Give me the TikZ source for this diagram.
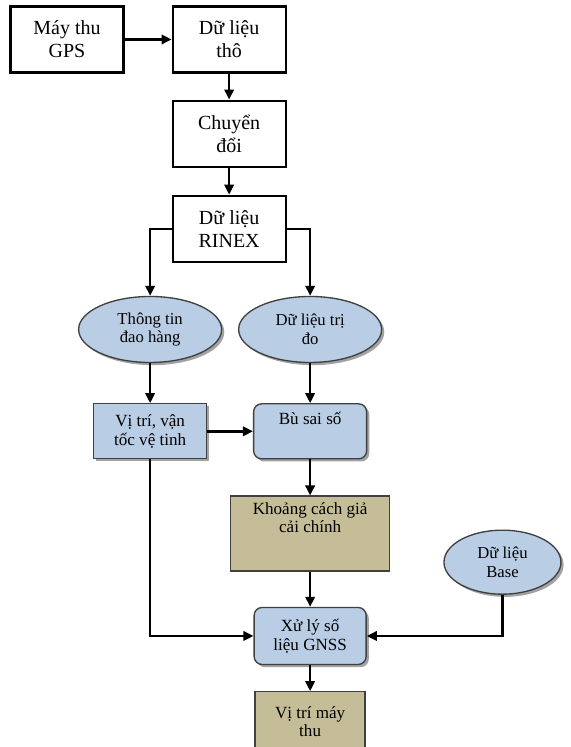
\documentclass[tikz,border=0pt]{standalone}
\usepackage{fontspec}
\setmainfont{Liberation Serif}
\usetikzlibrary{arrows.meta, positioning, shapes.geometric, shadows}
\definecolor{paleblue}{HTML}{B9CDE5}
\definecolor{khaki}{HTML}{C4BD97}

\begin{document}
\begin{tikzpicture}[
    node distance=20pt,
    plain/.style={
        rectangle, draw, line width=1.6pt,
        minimum width=84.75pt, minimum height=49.5pt,
        align=center, font=\fontsize{15}{17.5}\selectfont
    },
    bluebox/.style={
        rectangle, draw=black!75, line width=1pt, fill=paleblue,
        minimum width=84.75pt, minimum height=41.25pt,
        align=center, font=\fontsize{12.8}{14.5}\selectfont,
        drop shadow={shadow xshift=2pt, shadow yshift=-2pt, fill=black!60, opacity=.6}
    },
    oval/.style={
        ellipse, draw=black!75, line width=1pt, fill=paleblue, inner sep=0pt,
        minimum width=107.25pt, minimum height=49.5pt,
        align=center, font=\fontsize{12.5}{14}\selectfont,
        drop shadow={shadow xshift=2pt, shadow yshift=-2pt, fill=black!60, opacity=.6}
    },
    tanbox/.style={
        rectangle, draw=black!75, line width=1pt, fill=khaki,
        align=center, font=\fontsize{12.8}{14}\selectfont
    },
    arrow/.style={-{Triangle[length=7.5pt,width=7pt]}, line width=1.8pt},
]

\useasboundingbox (0,0) rectangle (428.25pt,-560.25pt);

\node[plain] (gps) at (50.25pt,-29.6pt) {Máy thu\\GPS};
\node[plain, right=35.25pt of gps] (tho) {Dữ liệu\\thô};
\node[plain, below=19.5pt of tho] (chuyen) {Chuyển\\đổi};
\node[plain, below=20.25pt of chuyen] (rinex) {Dữ liệu\\RINEX};

\node[oval, below=24.75pt of rinex, xshift=-59.25pt] (daohang) {Thông tin\\đao hàng};
\node[oval, below=24.75pt of rinex, xshift=60.75pt] (trido) {Dữ liệu trị\\đo};

\node[bluebox, below=30pt of daohang] (vitri) {Vị trí, vận\\tốc vệ tinh};
\node[bluebox, rounded corners=6pt, below=30pt of trido] (busai) {Bù sai số\\ \strut};

\node[tanbox, minimum width=119.25pt, minimum height=56.25pt, below=27pt of busai] (khoang) {Khoảng cách giả\\cải chính\\[6pt]\strut};
\node[oval, minimum width=87.75pt, minimum height=48pt, right=39.75pt of khoang, yshift=-21.4pt] (base) {Dữ liệu\\Base};

\node[bluebox, rounded corners=6pt, minimum width=84pt, minimum height=42.75pt, below=26.25pt of khoang] (xuly) {Xử lý số\\liệu GNSS};
\node[tanbox, minimum width=82.5pt, minimum height=45pt, below=19.5pt of xuly] (vitrimay) {Vị trí máy\\thu};

\draw[arrow] (gps) -- (tho);
\draw[arrow] (tho) -- (chuyen);
\draw[arrow] (chuyen) -- (rinex);
\draw[arrow] (rinex.west) -| (daohang);
\draw[arrow] (rinex.east) -| (trido);
\draw[arrow] (daohang) -- (vitri);
\draw[arrow] (trido) -- (busai);
\draw[arrow] (vitri) -- (busai);
\draw[arrow] (busai) -- (khoang);
\draw[arrow] (khoang) -- (xuly);
\draw[arrow] (xuly) -- (vitrimay);
\draw[arrow] (vitri) |- (xuly);
\draw[arrow] (base) |- (xuly);

\end{tikzpicture}
\end{document}
